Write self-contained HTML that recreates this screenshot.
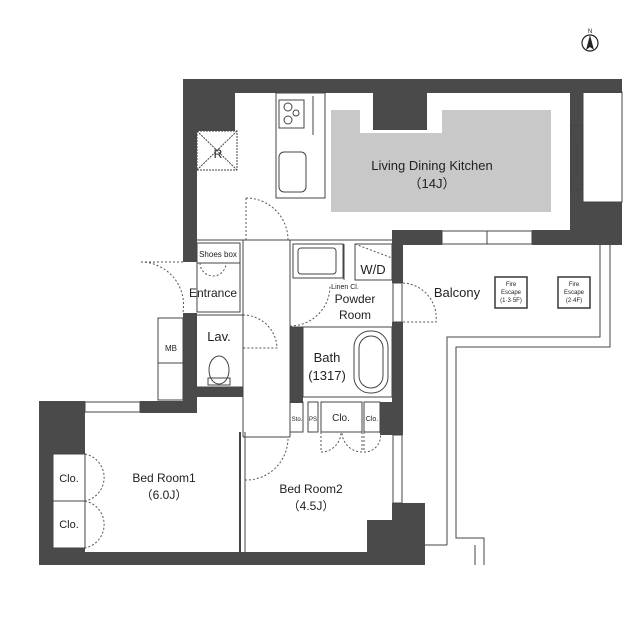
<!DOCTYPE html>
<html><head><meta charset="utf-8"><style>
html,body{margin:0;padding:0;background:#fff;}
svg{display:block;}
text{font-family:"Liberation Sans",sans-serif;fill:#222;}
</style></head><body>
<svg width="640" height="639" viewBox="0 0 640 639" xmlns="http://www.w3.org/2000/svg">
<rect width="640" height="639" fill="#fff"/>
<circle cx="590" cy="43" r="8" fill="none" stroke="#222" stroke-width="1.2"/>
<path d="M590 35 L594 50 L590 47 L586 50 Z" fill="#222"/>
<text x="590" y="33" font-size="6" text-anchor="middle">N</text>

<g fill="#4a4a4a">
<rect x="183" y="79" width="439" height="14"/>
<rect x="183" y="79" width="52" height="52"/>
<rect x="183" y="79" width="14" height="183"/>
<rect x="373" y="93" width="54" height="37"/>
<rect x="570" y="79" width="13" height="166"/>
<rect x="570" y="202" width="52" height="43"/>
<rect x="609" y="79" width="13" height="13"/>
<rect x="392" y="230" width="50" height="15"/>
<rect x="532" y="230" width="90" height="15"/>
<rect x="392" y="230" width="11" height="53"/>
<rect x="392" y="322" width="11" height="113"/>
<rect x="183" y="313" width="14" height="90"/>
<rect x="183" y="387" width="60" height="10"/>
<rect x="39" y="401" width="46" height="53"/>
<rect x="39" y="401" width="14" height="164"/>
<rect x="140" y="401" width="57" height="12"/>
<rect x="39" y="548" width="46" height="17"/>
<rect x="39" y="552" width="386" height="13"/>
<rect x="392" y="503" width="33" height="62"/>
<rect x="367" y="520" width="58" height="45"/>
<rect x="290" y="327" width="13" height="76"/>
<rect x="380" y="402" width="23" height="33"/>
</g>

<g fill="none" stroke="#444" stroke-width="1">
<rect x="583" y="92" width="39" height="110"/>
<rect x="571" y="125" width="11" height="65"/>
<line x1="576" y1="140" x2="576" y2="175"/>
<rect x="442" y="231" width="90" height="13"/>
<line x1="487" y1="231" x2="487" y2="244"/>
<rect x="276" y="93" width="49" height="105"/>
<rect x="279" y="100" width="25" height="28"/>
<circle cx="288" cy="107" r="4"/><circle cx="288" cy="120" r="4"/><circle cx="296" cy="113" r="3"/>
<line x1="313" y1="96" x2="313" y2="135"/>
<rect x="279" y="152" width="27" height="40" rx="5"/>
<rect x="197" y="131" width="40" height="39" stroke-dasharray="2,1"/>
<line x1="197" y1="131" x2="237" y2="170" stroke-dasharray="2,1"/>
<line x1="237" y1="131" x2="197" y2="170" stroke-dasharray="2,1"/>
<line x1="197" y1="240" x2="392" y2="240"/>
<line x1="243" y1="240" x2="243" y2="437"/>
<line x1="290" y1="240" x2="290" y2="437"/>
<line x1="243" y1="437" x2="290" y2="437"/>
<line x1="240" y1="432" x2="240" y2="552" stroke-width="2"/>
<line x1="245" y1="432" x2="245" y2="552"/>
<rect x="197" y="243" width="43" height="20"/>
<rect x="197" y="263" width="43" height="49"/>
<rect x="196" y="315" width="47" height="72"/>
<rect x="158" y="318" width="25" height="82"/>
<line x1="158" y1="363" x2="183" y2="363"/>
<rect x="85" y="402" width="55" height="10"/>
<rect x="53" y="454" width="32" height="94"/>
<line x1="53" y1="501" x2="85" y2="501"/>
<ellipse cx="219" cy="370" rx="10" ry="14"/>
<rect x="208" y="378" width="22" height="7"/>
<rect x="293" y="244" width="50" height="34"/>
<rect x="298" y="248" width="38" height="26" rx="3"/>
<line x1="344" y1="244" x2="344" y2="280"/>
<rect x="355" y="244" width="37" height="36"/>
<line x1="290" y1="327" x2="392" y2="327"/>
<rect x="303" y="327" width="89" height="70"/>
<rect x="354" y="331" width="34" height="62" rx="16"/>
<rect x="359" y="336" width="24" height="52" rx="12"/>
<rect x="290" y="402" width="13" height="30"/>
<rect x="308" y="402" width="10" height="30"/>
<rect x="321" y="402" width="41" height="30"/>
<rect x="364" y="402" width="16" height="30"/>
<rect x="393" y="283" width="9" height="39"/>
<rect x="393" y="435" width="9" height="68"/>
<polyline points="600,245 600,337 447,337 447,545"/>
<polyline points="610,245 610,347 456,347 456,538 484,538 484,565"/>
<line x1="425" y1="545" x2="447" y2="545"/>
<line x1="475" y1="545" x2="475" y2="565"/>
<rect x="495" y="277" width="32" height="31" stroke-width="1.6"/>
<rect x="558" y="277" width="32" height="31" stroke-width="1.6"/>
</g>

<path d="M331 110 H360 V133 H442 V110 H551 V212 H331 Z" fill="#c8c8c8"/>

<g fill="none" stroke="#555" stroke-width="1" stroke-dasharray="2,2">
<path d="M246 198 V240 M246 198 A42 42 0 0 1 288 240"/>
<path d="M183 262 H140 A43 43 0 0 1 183 312"/>
<path d="M243 315 A34 34 0 0 1 277 348 H243"/>
<path d="M290 326 A40 40 0 0 0 330 286"/>
<path d="M403 283 A35 35 0 0 1 436 322 H403"/>
<path d="M245 480 A42 42 0 0 0 288 437"/>
<path d="M85 454 A24 24 0 0 1 85 501 M85 501 A24 24 0 0 1 85 548"/>
<path d="M321 432 V452 A20 20 0 0 0 341 432 M362 432 V452 A20 20 0 0 1 342 432"/>
<path d="M364 432 V452 A16 16 0 0 0 380 432"/>
<path d="M200 263 A13 13 0 0 0 213 276 A13 13 0 0 0 226 263"/>
<line x1="355" y1="244" x2="392" y2="258"/>
</g>

<g font-size="12" text-anchor="middle">
<text x="432" y="170" font-size="13">Living Dining Kitchen</text>
<text x="432" y="188" font-size="13">（14J）</text>
<text x="218" y="158" font-size="12">R</text>
<text x="218" y="257" font-size="8">Shoes box</text>
<text x="213" y="297">Entrance</text>
<text x="219" y="341" font-size="13">Lav.</text>
<text x="171" y="351" font-size="8">MB</text>
<text x="164" y="482">Bed Room1</text>
<text x="164" y="499">（6.0J）</text>
<text x="69" y="482" font-size="11">Clo.</text>
<text x="69" y="528" font-size="11">Clo.</text>
<text x="311" y="493">Bed Room2</text>
<text x="311" y="510">（4.5J）</text>
<text x="327" y="362" font-size="13">Bath</text>
<text x="327" y="380" font-size="13">(1317)</text>
<text x="373" y="274" font-size="13">W/D</text>
<text x="345" y="289" font-size="7">Linen Cl.</text>
<text x="355" y="303">Powder</text>
<text x="355" y="319">Room</text>
<text x="457" y="297" font-size="13">Balcony</text>
<text x="341" y="421" font-size="10">Clo.</text>
<text x="372" y="421" font-size="7">Clo.</text>
<text x="297" y="421" font-size="6">Sto.</text>
<text x="313" y="421" font-size="6">PS</text>
<text x="511" y="286" font-size="6">Fire</text>
<text x="511" y="294" font-size="6">Escape</text>
<text x="511" y="302" font-size="6">(1·3·5F)</text>
<text x="574" y="286" font-size="6">Fire</text>
<text x="574" y="294" font-size="6">Escape</text>
<text x="574" y="302" font-size="6">(2·4F)</text>
</g>
</svg>
</body></html>
